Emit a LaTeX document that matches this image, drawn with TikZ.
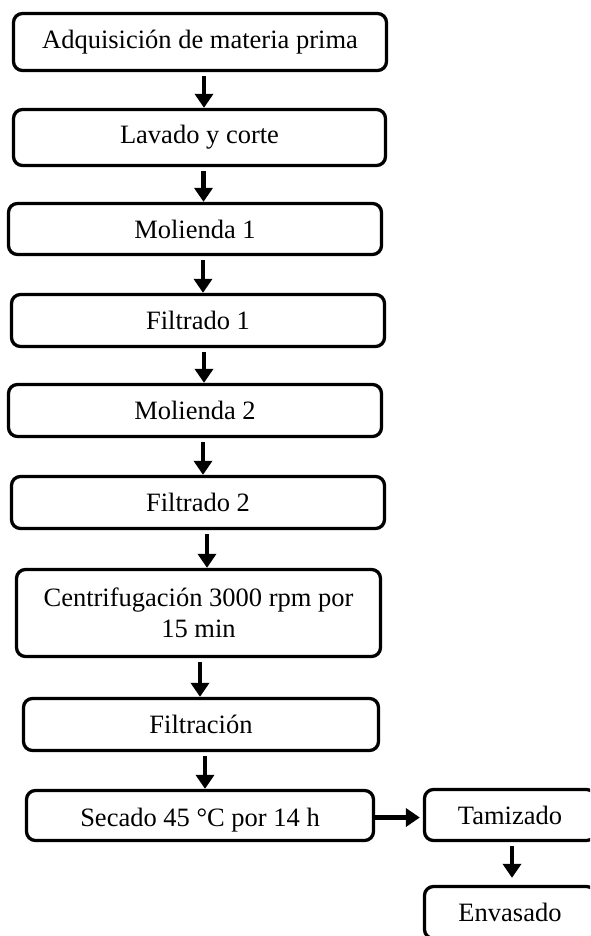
\documentclass[tikz,border=0pt]{standalone}
\usepackage{fontspec}
\setmainfont{Liberation Serif}
\usetikzlibrary{arrows.meta, positioning}

\tikzset{
	procbox/.style={draw=black, line width=3.3pt, rounded corners=9pt, inner sep=0pt,
		align=center, font=\fontsize{26.5}{31}\selectfont},
	flowarrow/.style={line width=4.5pt, -{Triangle[width=18pt,length=14pt]}, shorten <=4pt}
}

\begin{document}
\begin{tikzpicture}[x=1pt, y=-1pt]
		% page size of the reference
		\useasboundingbox (0,0) rectangle (590,936);
		\clip (0,0) rectangle (590,936);

		% Main column of process steps
		\node[procbox, minimum width=373pt, minimum height=57pt] (adq) at (200,42) {Adquisición de materia prima};
		\node[procbox, minimum width=372pt, minimum height=56pt] (lav) at (199.5,137.5) {Lavado y corte};
		\node[procbox, minimum width=373pt, minimum height=51pt] (mol1) at (195,229) {Molienda 1};
		\node[procbox, minimum width=373pt, minimum height=52pt] (fil1) at (198,320.5) {Filtrado 1};
		\node[procbox, minimum width=373pt, minimum height=52pt] (mol2) at (195,410.5) {Molienda 2};
		\node[procbox, minimum width=373pt, minimum height=52pt] (fil2) at (198,502.5) {Filtrado 2};
		\node[procbox, minimum width=364pt, minimum height=87pt] (cen) at (198.5,613) {Centrifugación 3000 rpm por\\15 min};
		\node[procbox, minimum width=355pt, minimum height=52pt] (filtr) at (201,724.5) {Filtración};
		\node[procbox, minimum width=347pt, minimum height=50pt] (sec) at (200,815.5) {\raisebox{-11pt}[0pt][0pt]{Secado 45 °C por 14 h}};

		% Side branch
		\node[procbox, minimum width=171pt, minimum height=51pt] (tam) at (510,815) {Tamizado};
		\node[procbox, minimum width=171pt, minimum height=52pt] (env) at (510,912.5) {Envasado};

		% Arrows between the steps
		\draw[flowarrow] ([xshift=4pt]adq.south) -- ([xshift=4pt]adq.south |- lav.north);
		\draw[flowarrow] ([xshift=4pt]lav.south) -- ([xshift=4pt]lav.south |- mol1.north);
		\draw[flowarrow] ([xshift=8pt]mol1.south) -- ([xshift=8pt]mol1.south |- fil1.north);
		\draw[flowarrow] ([xshift=6pt]fil1.south) -- ([xshift=6pt]fil1.south |- mol2.north);
		\draw[flowarrow] ([xshift=8pt]mol2.south) -- ([xshift=8pt]mol2.south |- fil2.north);
		\draw[flowarrow] ([xshift=9pt]fil2.south) -- ([xshift=9pt]fil2.south |- cen.north);
		\draw[flowarrow] ([xshift=1.5pt]cen.south) -- ([xshift=1.5pt]cen.south |- filtr.north);
		\draw[flowarrow] ([xshift=4pt]filtr.south) -- ([xshift=4pt]filtr.south |- sec.north);
		\draw[flowarrow, shorten <=0pt, shorten >=3pt] ([yshift=-2pt]sec.east) -- ([yshift=-2pt]sec.east -| tam.west);
		\draw[flowarrow, shorten >=7pt] ([xshift=2pt]tam.south) -- ([xshift=2pt]tam.south |- env.north);

	\end{tikzpicture}
\end{document}
